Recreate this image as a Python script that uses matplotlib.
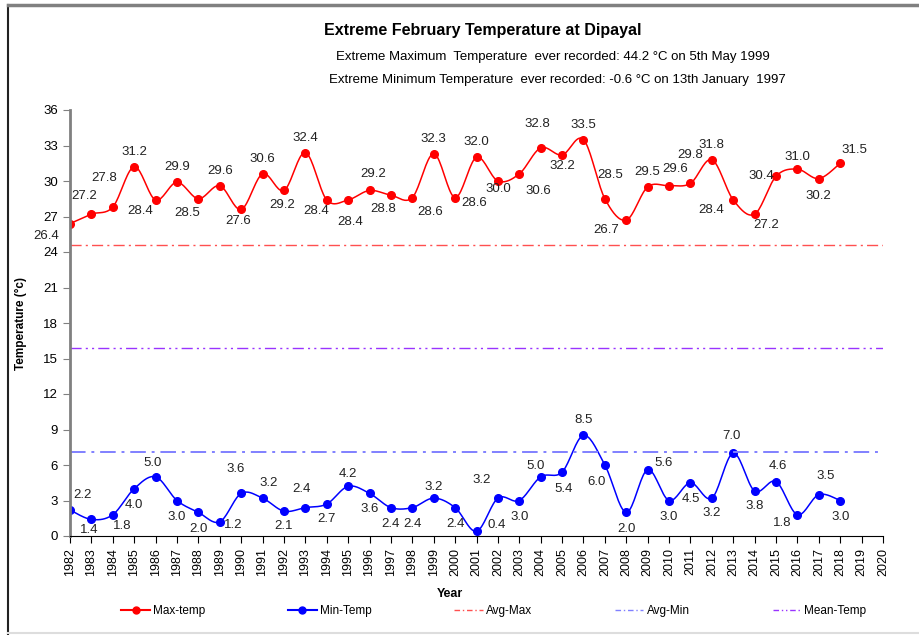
import numpy as np
import matplotlib
matplotlib.use('Agg')
import matplotlib.pyplot as plt
from matplotlib.lines import Line2D

plt.rcParams['font.family'] = ['Liberation Sans', 'DejaVu Sans']

# data
years = list(range(1982, 2019))
max_temp = [26.4, 27.2, 27.8, 31.2, 28.4, 29.9, 28.5, 29.6, 27.6, 30.6,
            29.2, 32.4, 28.4, 28.4, 29.2, 28.8, 28.6, 32.3, 28.6, 32.0,
            30.0, 30.6, 32.8, 32.2, 33.5, 28.5, 26.7, 29.5, 29.6, 29.8,
            31.8, 28.4, 27.2, 30.4, 31.0, 30.2, 31.5]
min_temp = [2.2, 1.4, 1.8, 4.0, 5.0, 3.0, 2.0, 1.2, 3.6, 3.2,
            2.1, 2.4, 2.7, 4.2, 3.6, 2.4, 2.4, 3.2, 2.4, 0.4,
            3.2, 3.0, 5.0, 5.4, 8.5, 6.0, 2.0, 5.6, 3.0, 4.5,
            3.2, 7.0, 3.8, 4.6, 1.8, 3.5, 3.0]
avg_max = 24.6
avg_min = 7.1
mean_temp = 15.9
year_ticks = list(range(1982, 2021))

# label offsets in pixels (dx, dy), dy positive = up
max_off = [(-24, -12), (-7, 18), (-9, 29), (0, 15), (-15, -11), (0, 15), (-11, -14),
           (0, 15), (-3, -12), (0, 15), (-2, -15), (0, 15), (-11, -11), (2, -22),
           (4, 16), (-8, -14), (18, -14), (0, 15), (19, -5), (0, 15), (0, -8),
           (19, -17), (-3, 24), (0, -11), (0, 15), (5, 24), (-20, -10), (0, 15),
           (6, 17), (0, 28), (0, 15), (-22, -10), (12, -11), (-15, 0), (0, 12),
           (0, -17), (14, 13)]
min_off = [(12, 15), (-2, -11), (9, -11), (0, -16), (-3, 14), (0, -16), (0, -17),
           (13, -3), (-6, 24), (6, 15), (0, -15), (-4, 19), (0, -15), (0, 12),
           (0, -16), (0, -16), (0, -16), (0, 11), (0, -16), (20, 6), (-16, 18),
           (0, -16), (-5, 11), (2, -17), (0, 15), (-8, -17), (0, -17), (16, 7),
           (0, -16), (0, -16), (0, -15), (-2, 17), (0, -15), (2, 16), (-15, -8),
           (7, 19), (0, -16)]


def smooth(x, y, n=20):
    # Catmull-Rom style bezier like a spreadsheet smoothed line
    x = np.asarray(x, float)
    y = np.asarray(y, float)
    px = np.concatenate([[x[0]], x, [x[-1]]])
    py = np.concatenate([[y[0]], y, [y[-1]]])
    xs, ys = [], []
    t = np.linspace(0, 1, n)
    for i in range(1, len(px) - 2):
        p0 = np.array([px[i], py[i]])
        p3 = np.array([px[i + 1], py[i + 1]])
        p1 = p0 + (np.array([px[i + 1], py[i + 1]]) - np.array([px[i - 1], py[i - 1]])) / 6
        p2 = p3 - (np.array([px[i + 2], py[i + 2]]) - np.array([px[i], py[i]])) / 6
        b = ((1 - t) ** 3)[:, None] * p0 + (3 * (1 - t) ** 2 * t)[:, None] * p1 \
            + (3 * (1 - t) * t ** 2)[:, None] * p2 + (t ** 3)[:, None] * p3
        xs.extend(b[:, 0])
        ys.extend(b[:, 1])
    return xs, ys


fig = plt.figure(figsize=(9.19, 6.35), dpi=100)
ax = fig.add_axes([70 / 919, 99 / 635, 813 / 919, 426 / 635])

sx, sy = smooth(years, max_temp)
ax.plot(sx, sy, color='#FF0000', lw=1.1)
ax.plot(years, max_temp, 'o', color='#FF0000', ms=5.5)
sx, sy = smooth(years, min_temp)
ax.plot(sx, sy, color='#0000FF', lw=1.1)
ax.plot(years, min_temp, 'o', color='#0000FF', ms=5.5)

ax.plot([1982, 2020], [avg_max, avg_max], color='#FF5050', lw=1, dashes=(8, 3, 1.5, 3))
ax.plot([1982, 2020], [avg_min, avg_min], color='#8080FF', lw=1.4, dashes=(8, 3, 1.5, 3))
ax.plot([1982, 2020], [mean_temp, mean_temp], color='#9933FF', lw=1, dashes=(8, 3, 1.5, 3, 1.5, 3))

for yr, v, (dx, dy) in zip(years, max_temp, max_off):
    ax.annotate(f'{v:.1f}', (yr, v), xytext=(dx, dy), textcoords='offset pixels',
                ha='center', va='center', fontsize=9.5, color='#222222')
for yr, v, (dx, dy) in zip(years, min_temp, min_off):
    ax.annotate(f'{v:.1f}', (yr, v), xytext=(dx, dy), textcoords='offset pixels',
                ha='center', va='center', fontsize=9.5, color='#222222')

ax.set_xlim(1982, 2020)
ax.set_ylim(0, 36)
ax.set_yticks(range(0, 37, 3))
ax.set_xticks(year_ticks)
ax.set_xticklabels([str(y) for y in year_ticks], rotation=90, fontsize=9)
ax.tick_params(axis='y', labelsize=9.5, length=5, color='#808080')
ax.tick_params(axis='x', length=5)
for s in ['top', 'right']:
    ax.spines[s].set_visible(False)
ax.spines['left'].set_color('#808080')
ax.spines['left'].set_linewidth(2)
ax.spines['bottom'].set_color('black')
ax.set_ylabel('Temperature (°c)', fontsize=8.5, fontweight='bold', labelpad=12)
fig.text(450 / 919, 1 - 594 / 635, 'Year', ha='center', va='center',
         fontsize=9, fontweight='bold')

fig.text(483 / 919, 1 - 30 / 635, 'Extreme February Temperature at Dipayal',
         ha='center', va='center', fontsize=11.5, fontweight='bold')
fig.text(553 / 919, 1 - 57 / 635,
         'Extreme Maximum  Temperature  ever recorded: 44.2 °C on 5th May 1999',
         ha='center', va='center', fontsize=9.5)
fig.text(557 / 919, 1 - 80 / 635,
         'Extreme Minimum Temperature  ever recorded: -0.6 °C on 13th January  1997',
         ha='center', va='center', fontsize=9.5)

handles = [
    Line2D([], [], color='#FF0000', marker='o', ms=5, lw=1.5),
    Line2D([], [], color='#0000FF', marker='o', ms=5, lw=1.5),
    Line2D([], [], color='#FF5050', lw=1, dashes=(4, 2, 1, 2)),
    Line2D([], [], color='#8080FF', lw=1, dashes=(4, 2, 1, 2)),
    Line2D([], [], color='#9933FF', lw=1, dashes=(4, 2, 1, 2, 1, 2)),
]
fig.legend(handles, ['Max-temp', 'Min-Temp', 'Avg-Max', 'Avg-Min', 'Mean-Temp'],
           loc='center', bbox_to_anchor=(494 / 919, 1 - 611 / 635), ncol=5, frameon=False,
           fontsize=8.5, handlelength=2.4, handletextpad=0.3, columnspacing=7.0)

# chart frame
fig.add_artist(Line2D([8 / 919, 8 / 919], [0, 1 - 5 / 635], color='#222222', lw=1.5))
fig.add_artist(Line2D([8 / 919, 1], [1 - 5 / 635, 1 - 5 / 635], color='#808080', lw=2.5))
fig.add_artist(Line2D([8 / 919, 1], [2 / 635, 2 / 635], color='#DDDDDD', lw=1.5))

fig.savefig('out.png', dpi=100)
